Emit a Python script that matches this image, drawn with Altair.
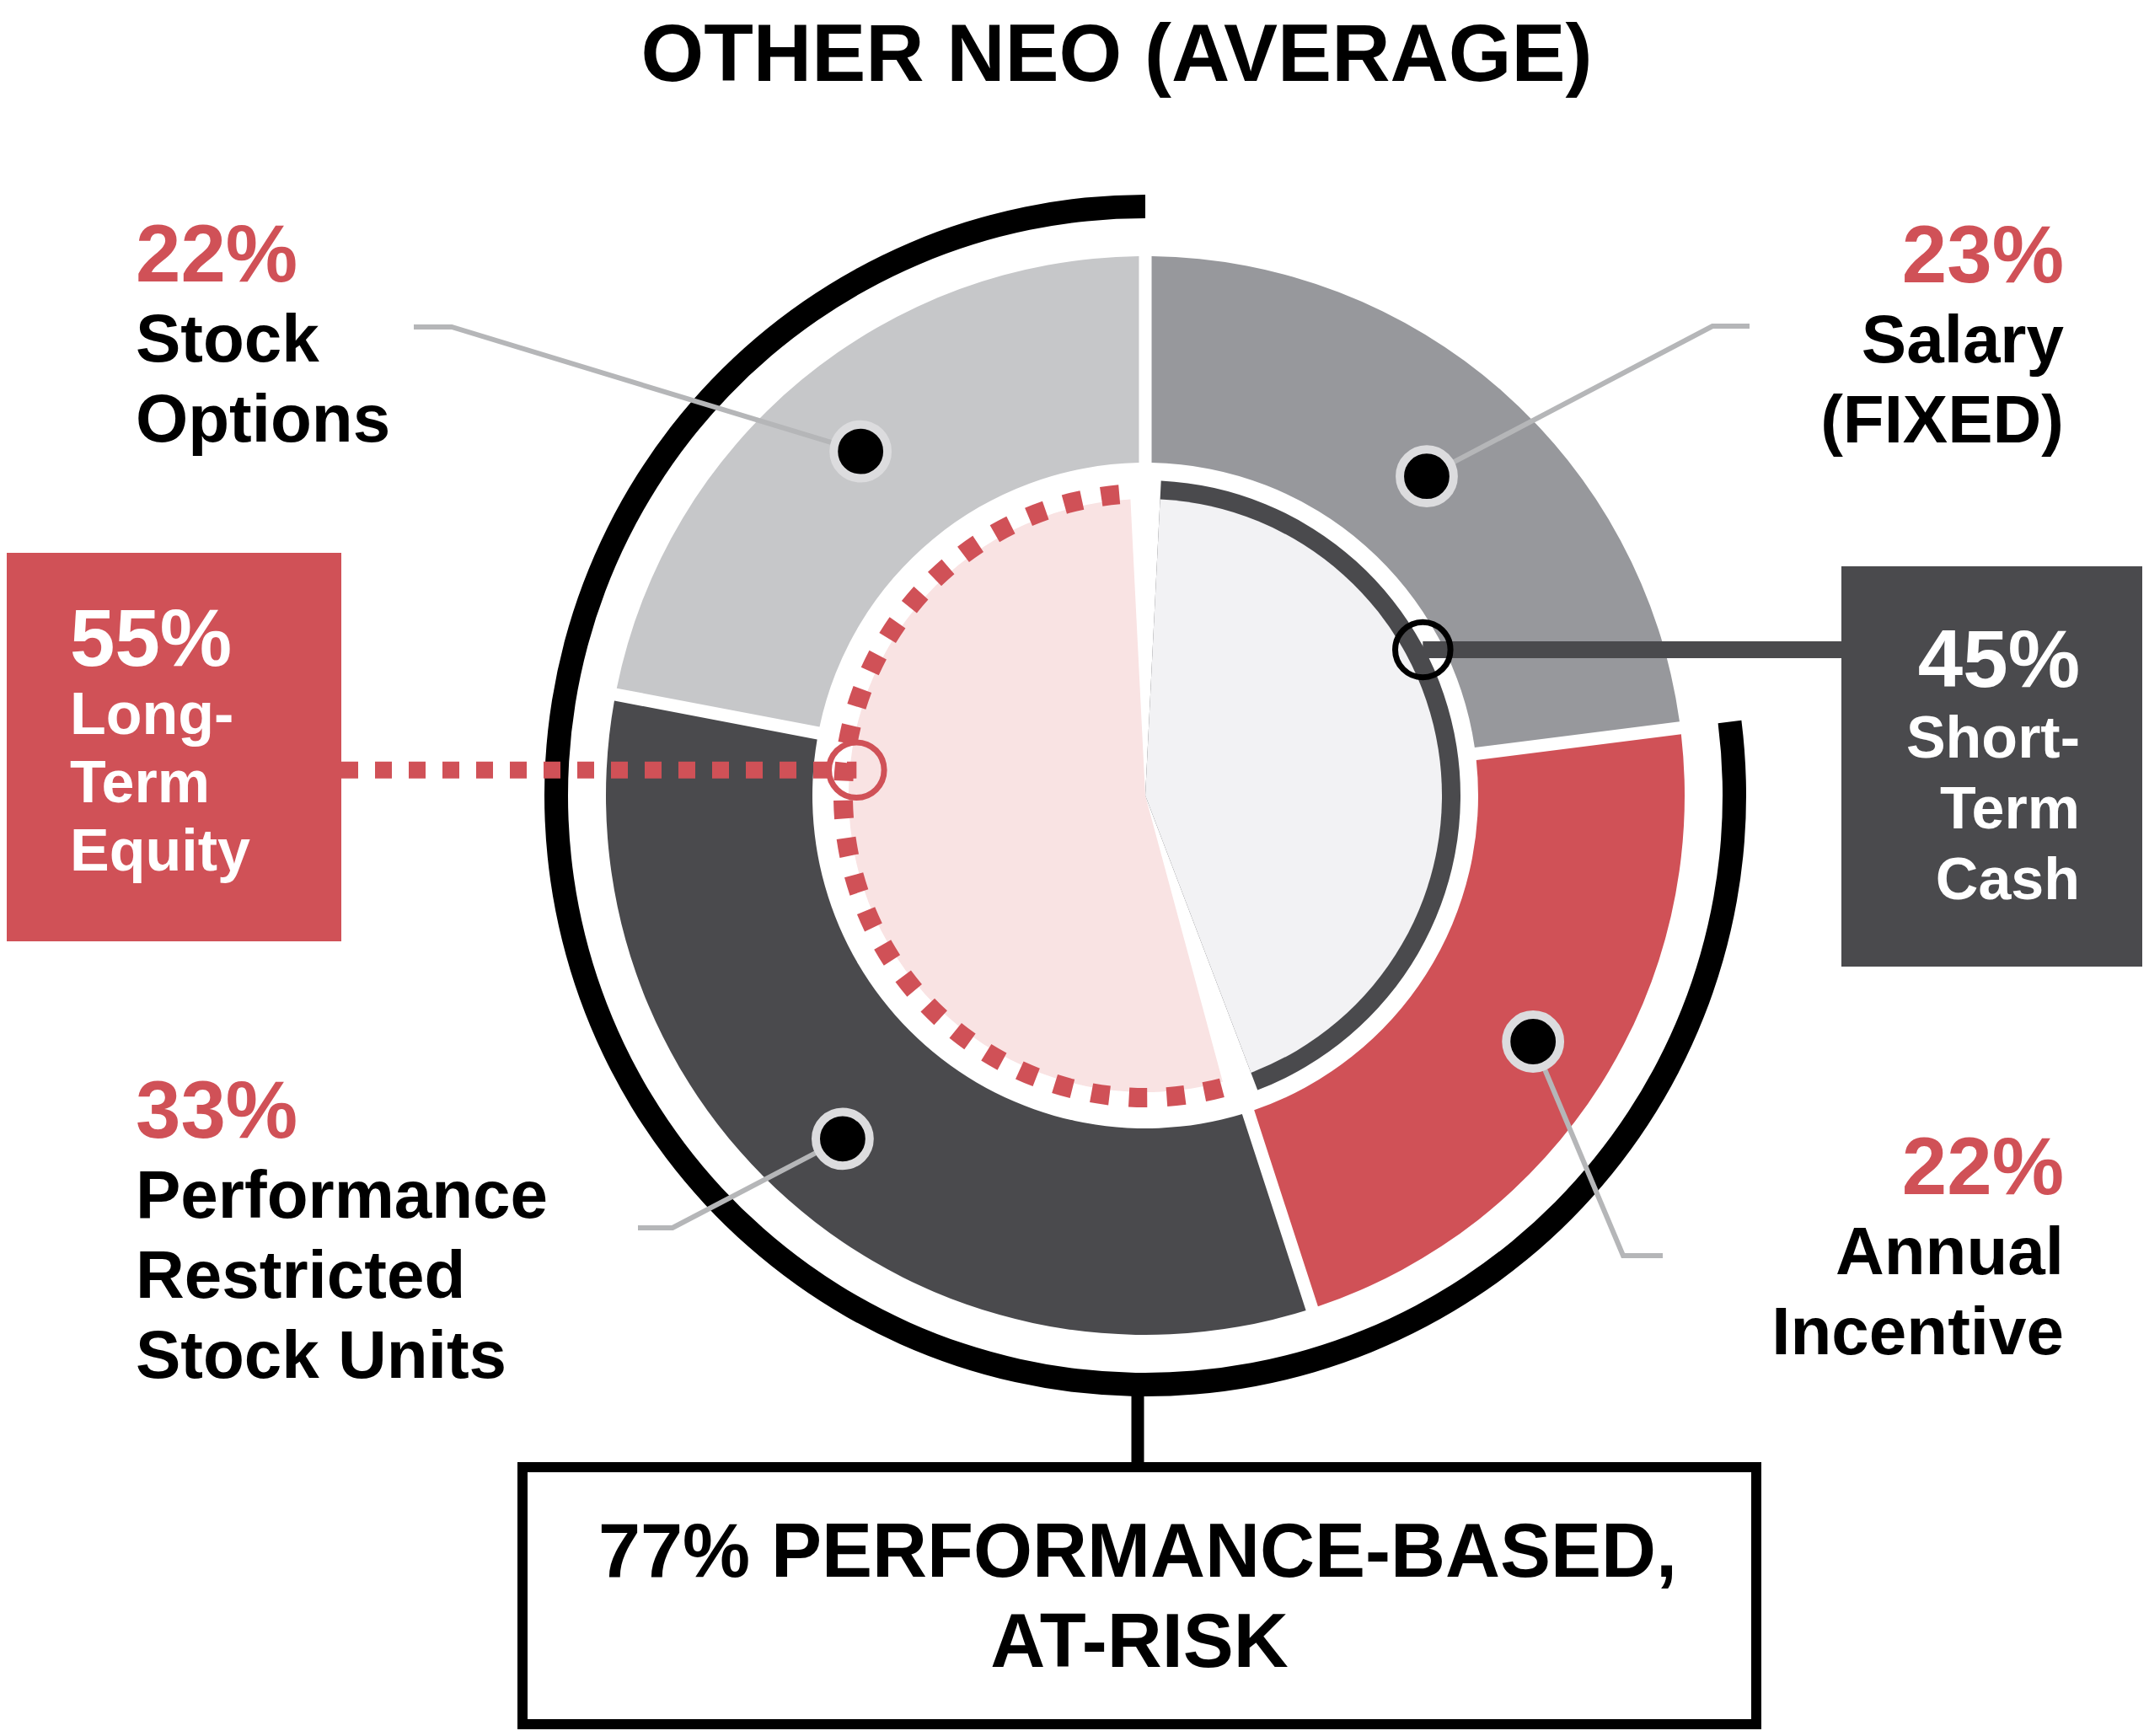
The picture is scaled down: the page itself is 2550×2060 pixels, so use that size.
import math
import numpy as np
import pandas as pd
import altair as alt

# ---------------- data ----------------
TITLE = "OTHER NEO (AVERAGE)"
seg_names = ["Salary", "Annual Incentive", "Performance Restricted Stock Units", "Stock Options"]
seg_pct = [23, 22, 33, 22]
seg_colors = ["#97989c", "#d05157", "#4a4a4d", "#c6c7c9"]
seg_lines = [["Salary", "(FIXED)"], ["Annual", "Incentive"],
             ["Performance", "Restricted", "Stock Units"], ["Stock", "Options"]]

grp_names = ["Short-Term Cash", "Long-Term Equity"]
grp_pct = [45, 55]
grp_colors = ["#f2f2f4", "#f9e3e3"]
grp_box_colors = ["#4a4a4d", "#d05157"]
grp_lines = [["Short-", "Term", "Cash"], ["Long-", "Term", "Equity"]]

at_risk_pct = 77
at_risk_lines = [f"{at_risk_pct}% PERFORMANCE-BASED,", "AT-RISK"]

# ---------------- layout ----------------
W, H = 2534, 2044
X0, Y0 = 8, 8
CX, CY = 1359, 944
R_SEG_IN, R_SEG_OUT = 395, 640
R_PIE, R_RING = 352, 374
R_DOT_IN, R_DOT_OUT = 347, 370
R_RISK_IN, R_RISK_OUT = 685, 713
RED = "#d05157"
DARK = "#4a4a4d"
LEADER = "#b5b6b8"
BOLD = '"Liberation Sans", Arial, sans-serif'
COND = '"Liberation Sans Narrow", "Arial Narrow", "Liberation Sans", Arial, sans-serif'

xs = alt.Scale(domain=[X0, X0 + W], nice=False, zero=False)
ys = alt.Scale(domain=[Y0, Y0 + H], nice=False, zero=False, reverse=True)
ts = alt.Scale(domain=[0, 100], range=[0, 2 * math.pi])


def polar(pct, r):
    a = pct / 100 * 2 * math.pi
    return CX + r * math.sin(a), CY - r * math.cos(a)


def arcs(df, **mark):
    return alt.Chart(df).mark_arc(**mark).encode(
        x=alt.X("cx:Q", scale=xs, axis=None),
        y=alt.Y("cy:Q", scale=ys, axis=None),
        theta=alt.Theta("t0:Q", scale=ts),
        theta2="t1:Q",
        color=alt.Color("color:N", scale=None, legend=None),
    )


def texts(df, **mark):
    return alt.Chart(df).mark_text(**mark).encode(
        x=alt.X("x:Q", scale=xs, axis=None),
        y=alt.Y("y:Q", scale=ys, axis=None),
        text="text:N",
    )


# outer donut
seg_start = np.concatenate([[0], np.cumsum(seg_pct)[:-1]])
seg_df = pd.DataFrame({"cx": CX, "cy": CY, "t0": seg_start,
                       "t1": seg_start + np.array(seg_pct), "color": seg_colors})
outer = arcs(seg_df, innerRadius=R_SEG_IN, outerRadius=R_SEG_OUT, padAngle=0.02)

# at-risk black arc (performance based share)
risk_df = pd.DataFrame({"cx": [CX], "cy": [CY], "t0": [100 - at_risk_pct], "t1": [100], "color": ["#000000"]})
risk = arcs(risk_df, innerRadius=R_RISK_IN, outerRadius=R_RISK_OUT)

# inner pie
grp_start = np.concatenate([[0], np.cumsum(grp_pct)[:-1]])
ring_df = pd.DataFrame({"cx": [CX], "cy": [CY], "t0": [grp_start[0]], "t1": [grp_start[0] + grp_pct[0]],
                        "color": [DARK]})
ring = arcs(ring_df, innerRadius=0, outerRadius=R_RING, padAngle=0.1)
pie_df = pd.DataFrame({"cx": CX, "cy": CY, "t0": grp_start, "t1": grp_start + np.array(grp_pct),
                       "color": grp_colors})
pie = arcs(pie_df, innerRadius=0, outerRadius=R_PIE, padAngle=0.1)

# red dotted ring around long-term share (dash pattern)
dot_c = np.linspace(grp_start[1] + 1.4, 100 - 1.85, 27)
dots_df = pd.DataFrame({"cx": CX, "cy": CY, "t0": dot_c - 0.48, "t1": dot_c + 0.48, "color": RED})
reddots = arcs(dots_df, innerRadius=R_DOT_IN, outerRadius=R_DOT_OUT)

# segment markers and leader lines
dot_r = [505, 545, 543, 530]
elbows = [(2032, 387, 2076), (1926, 1490, 1973), (798, 1457, 757), (536, 388, 491)]
mk_rows, ld_rows = [], []
for i, (s, p) in enumerate(zip(seg_start, seg_pct)):
    mx, my = polar(s + p / 2, dot_r[i])
    mk_rows.append({"x": mx, "y": my})
    ex, ey, endx = elbows[i]
    ld_rows += [{"id": i, "k": 0, "x": mx, "y": my},
                {"id": i, "k": 1, "x": ex, "y": ey},
                {"id": i, "k": 2, "x": endx, "y": ey}]
leaders = alt.Chart(pd.DataFrame(ld_rows)).mark_line(color=LEADER, strokeWidth=6, strokeJoin="miter").encode(
    x=alt.X("x:Q", scale=xs, axis=None), y=alt.Y("y:Q", scale=ys, axis=None),
    detail="id:N", order="k:Q")
markers = alt.Chart(pd.DataFrame(mk_rows)).mark_circle(
    size=math.pi * 36 ** 2, color="black", opacity=1, stroke="#dcdcde", strokeWidth=10).encode(
    x=alt.X("x:Q", scale=xs, axis=None), y=alt.Y("y:Q", scale=ys, axis=None))

# group connectors
st_x, st_y = polar(17.3, 372)
lt_x, lt_y = polar(76.4, 344)
box_r = (2185, 672, X0 + W, 1147)   # short-term box
box_l = (X0, 656, 405, 1117)        # long-term box
conn_df = pd.DataFrame({"x": [st_x], "x2": [box_r[0]], "y": [st_y]})
conn_dark = alt.Chart(conn_df).mark_rule(color=DARK, strokeWidth=20, strokeCap="butt").encode(
    x=alt.X("x:Q", scale=xs, axis=None), x2="x2:Q", y=alt.Y("y:Q", scale=ys, axis=None))
conn_red_df = pd.DataFrame({"x": [box_l[2]], "x2": [lt_x], "y": [lt_y]})
conn_red = alt.Chart(conn_red_df).mark_rule(color=RED, strokeWidth=20, strokeCap="butt",
                                            strokeDash=[20, 20]).encode(
    x=alt.X("x:Q", scale=xs, axis=None), x2="x2:Q", y=alt.Y("y:Q", scale=ys, axis=None))
rings_df = pd.DataFrame({"x": [st_x, lt_x], "y": [st_y, lt_y], "color": ["#000000", RED]})
hollow = alt.Chart(rings_df).mark_point(shape="circle", filled=False, size=math.pi * 37 ** 2,
                                        strokeWidth=7, opacity=1).encode(
    x=alt.X("x:Q", scale=xs, axis=None), y=alt.Y("y:Q", scale=ys, axis=None),
    stroke=alt.Stroke("color:N", scale=None, legend=None))

# boxes
boxes_df = pd.DataFrame({"x": [box_r[0], box_l[0]], "y": [box_r[1], box_l[1]],
                         "x2": [box_r[2], box_l[2]], "y2": [box_r[3], box_l[3]],
                         "color": grp_box_colors})
boxes = alt.Chart(boxes_df).mark_rect().encode(
    x=alt.X("x:Q", scale=xs, axis=None), x2="x2:Q",
    y=alt.Y("y:Q", scale=ys, axis=None), y2="y2:Q",
    color=alt.Color("color:N", scale=None, legend=None))

bottom_df = pd.DataFrame({"x": [620], "x2": [2084], "y": [1741], "y2": [2046]})
bottom_box = alt.Chart(bottom_df).mark_rect(fill="white", stroke="black", strokeWidth=12).encode(
    x=alt.X("x:Q", scale=xs, axis=None), x2="x2:Q",
    y=alt.Y("y:Q", scale=ys, axis=None), y2="y2:Q")
stem_df = pd.DataFrame({"x": [1350], "y": [CY + R_RISK_OUT - 2], "y2": [1741]})
stem = alt.Chart(stem_df).mark_rule(color="black", strokeWidth=15, strokeCap="butt").encode(
    x=alt.X("x:Q", scale=xs, axis=None), y=alt.Y("y:Q", scale=ys, axis=None), y2="y2:Q")

# segment labels
seg_anchor = [(2449, "right", 335), (2449, "right", 1417), (161, "left", 1350), (161, "left", 334)]
STEP = 95
pct_rows = {"left": [], "right": []}
lab_rows = {"left": [], "right": []}
for i, (ax, al, py) in enumerate(seg_anchor):
    pct_rows[al].append({"x": ax, "y": py, "text": f"{seg_pct[i]}%"})
    for j, line in enumerate(seg_lines[i]):
        lab_rows[al].append({"x": ax, "y": py + STEP * (j + 1), "text": line})

text_layers = []
for al in ["left", "right"]:
    text_layers.append(texts(pd.DataFrame(pct_rows[al]), align=al, baseline="alphabetic",
                             font=COND, fontSize=96, fontWeight="bold", color=RED))
    text_layers.append(texts(pd.DataFrame(lab_rows[al]), align=al, baseline="alphabetic",
                             font=BOLD, fontSize=80, fontWeight="bold", color="black"))

# group box labels
grp_anchor = [(2468, "right", 815, 84), (83, "left", 790, 81)]
for i, (ax, al, py, step) in enumerate(grp_anchor):
    text_layers.append(texts(pd.DataFrame([{"x": ax, "y": py, "text": f"{grp_pct[i]}%"}]),
                             align=al, baseline="alphabetic", font=COND, fontSize=96,
                             fontWeight="bold", color="white"))
    rows = [{"x": ax, "y": py + step * (j + 1), "text": t} for j, t in enumerate(grp_lines[i])]
    text_layers.append(texts(pd.DataFrame(rows), align=al, baseline="alphabetic", font=BOLD,
                             fontSize=70, fontWeight="bold", color="white"))

# at-risk text
risk_rows = [{"x": 1350, "y": 1871, "text": at_risk_lines[0]},
             {"x": 1352, "y": 1978, "text": at_risk_lines[1]}]
text_layers.append(texts(pd.DataFrame(risk_rows), align="center", baseline="alphabetic",
                         font=BOLD, fontSize=90, fontWeight="bold", color="black"))

# title
text_layers.append(texts(pd.DataFrame([{"x": 1325, "y": 96, "text": TITLE}]), align="center",
                         baseline="alphabetic", font=BOLD, fontSize=96, fontWeight="bold", color="black"))

chart = alt.layer(
    outer, risk, ring, pie, reddots, leaders, markers, conn_dark, conn_red, hollow,
    boxes, stem, bottom_box, *text_layers
).properties(
    width=W, height=H, padding=0, autosize=alt.AutoSizeParams(type="none"), background="white"
).configure_view(stroke=None)

chart.save("out.html", embed_options={"renderer": "svg", "actions": False})
